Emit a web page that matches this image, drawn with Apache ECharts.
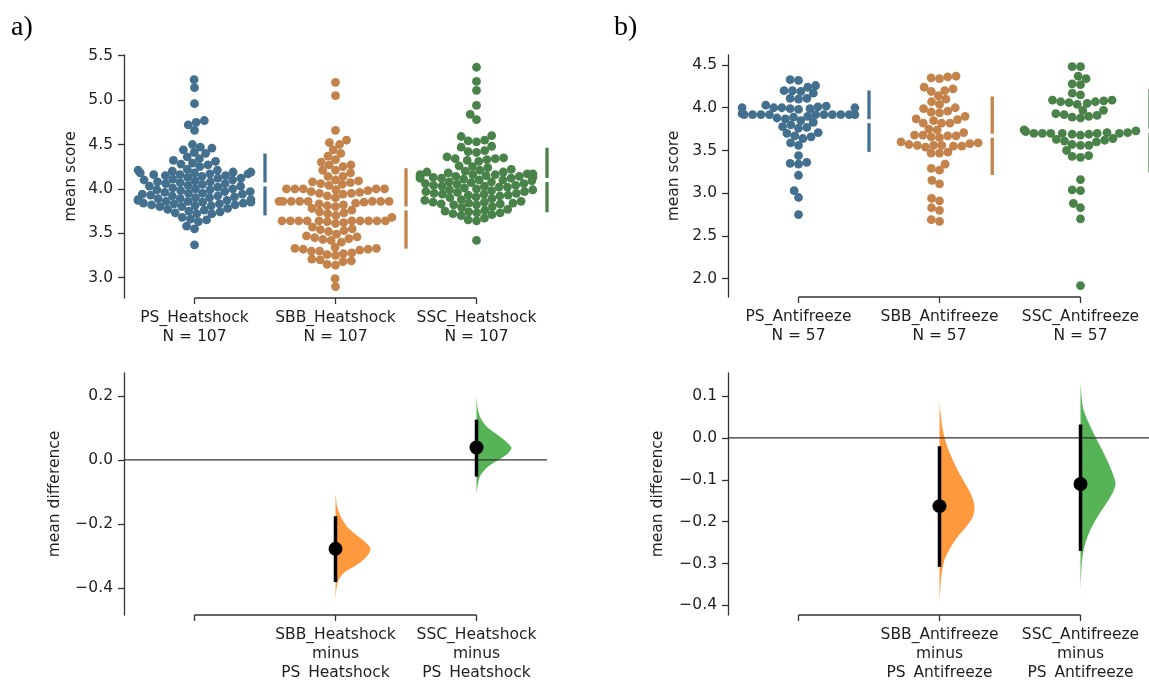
<!DOCTYPE html>
<html><head><meta charset="utf-8">
<script src="https://cdn.jsdelivr.net/npm/echarts@6/dist/echarts.min.js"></script>
<style>html,body{margin:0;padding:0;background:#fff}#c{width:1149px;height:680px}</style>
</head><body><div id="c"></div>
<script>
// ---------------- DATA ----------------
const heatGroups = ['PS_Heatshock', 'SBB_Heatshock', 'SSC_Heatshock'];
const heatN = [107, 107, 107];
const antiGroups = ['PS_Antifreeze', 'SBB_Antifreeze', 'SSC_Antifreeze'];
const antiN = [57, 57, 57];

const psHeat = [5.23, 5.14, 4.96, 4.77, 4.75, 4.72, 4.66, 4.50, 4.47, 4.46, 4.44, 4.41, 4.40, 4.36, 4.34, 4.32, 4.31, 4.29, 4.28, 4.27, 4.25,
  4.22, 4.21, 4.21, 4.20, 4.19, 4.19, 4.18, 4.18, 4.17, 4.17, 4.16, 4.16, 4.15, 4.15,
  4.14, 4.13, 4.12, 4.12, 4.11, 4.10, 4.10, 4.09, 4.08, 4.08, 4.07, 4.06, 4.06, 4.05,
  4.04, 4.03, 4.03, 4.02, 4.01, 4.00, 4.00, 3.99, 3.99, 3.98, 3.97, 3.97, 3.96, 3.95, 3.95,
  3.94, 3.94, 3.93, 3.92, 3.92, 3.91, 3.90, 3.90, 3.89, 3.89, 3.88, 3.88, 3.87, 3.87,
  3.86, 3.86, 3.85, 3.85, 3.84, 3.84, 3.83, 3.83, 3.82, 3.82, 3.81, 3.81, 3.80, 3.80,
  3.78, 3.77, 3.76, 3.75, 3.74, 3.73, 3.72, 3.72,
  3.68, 3.66, 3.65, 3.63, 3.58, 3.55, 3.37];
const sbbHeat = [5.20, 5.05, 4.66, 4.55, 4.52, 4.50, 4.44, 4.40, 4.37, 4.33, 4.30, 4.27, 4.27, 4.25, 4.21, 4.21, 4.18, 4.14, 4.14,
  4.10, 4.09, 4.08, 4.07, 4.06, 4.05, 4.04,
  4.00, 4.00, 4.00, 4.00, 4.00, 3.99, 3.98, 3.97, 3.96, 3.95, 3.95, 3.94, 3.92, 3.90,
  3.86, 3.86, 3.86, 3.86, 3.86, 3.86, 3.86, 3.86, 3.85, 3.84, 3.83, 3.82, 3.81, 3.80,
  3.78, 3.76, 3.74, 3.73, 3.72, 3.70, 3.68,
  3.64, 3.64, 3.64, 3.64, 3.64, 3.64, 3.64, 3.64, 3.64, 3.64, 3.63, 3.62, 3.61,
  3.57, 3.55, 3.54, 3.53, 3.52,
  3.49, 3.47, 3.46, 3.45, 3.44, 3.43, 3.42, 3.40,
  3.34, 3.33, 3.33, 3.32, 3.32, 3.31, 3.30, 3.30,
  3.28, 3.27, 3.26, 3.25,
  3.21, 3.20, 3.19, 3.18, 3.15, 3.14,
  2.99, 2.90];
const sscHeat = [5.37, 5.21, 5.11, 4.94, 4.84, 4.78,
  4.60, 4.59, 4.55, 4.54, 4.53,
  4.48, 4.47, 4.43, 4.42, 4.41,
  4.36, 4.35, 4.34, 4.34, 4.33, 4.32, 4.31,
  4.26, 4.25, 4.24, 4.22, 4.21, 4.20, 4.19, 4.19, 4.18,
  4.17, 4.17, 4.16, 4.16, 4.16, 4.15, 4.15, 4.14, 4.14, 4.14, 4.13, 4.13, 4.12, 4.12, 4.12, 4.11,
  4.10, 4.10, 4.09, 4.08, 4.08, 4.07, 4.06, 4.06, 4.05, 4.04, 4.04, 4.03, 4.03, 4.02, 4.02, 4.01,
  4.00, 3.99, 3.99, 3.98, 3.97, 3.97, 3.96, 3.95, 3.95, 3.94, 3.94, 3.93, 3.93, 3.92, 3.91, 3.90, 3.89,
  3.88, 3.87, 3.86, 3.85, 3.85, 3.84, 3.84, 3.83, 3.83, 3.82, 3.82, 3.80, 3.79,
  3.77, 3.76, 3.75, 3.74, 3.73, 3.73, 3.72, 3.71, 3.70,
  3.67, 3.65, 3.64, 3.42];

const psAnti = [4.33, 4.32, 4.26, 4.24, 4.20, 4.20, 4.19, 4.17, 4.11, 4.11, 4.10,
  4.03, 4.02, 4.01, 4.00, 4.00, 4.00, 4.00, 3.99, 3.99, 3.98,
  3.93, 3.92, 3.92, 3.92, 3.92, 3.92, 3.92, 3.92, 3.92, 3.92, 3.92, 3.90, 3.89, 3.88, 3.87,
  3.85, 3.83, 3.80, 3.78, 3.77, 3.76,
  3.71, 3.70, 3.67, 3.66, 3.64,
  3.59, 3.56, 3.44, 3.36, 3.35, 3.34, 3.21, 3.03, 2.95, 2.75];
const sbbAnti = [4.37, 4.36, 4.35, 4.34,
  4.24, 4.22, 4.20, 4.19, 4.14, 4.10, 4.07,
  4.04, 4.00, 3.99, 3.96, 3.95, 3.94,
  3.90, 3.87, 3.86, 3.85, 3.82, 3.82, 3.82, 3.75, 3.74, 3.71,
  3.68, 3.68, 3.67, 3.67, 3.66, 3.65,
  3.60, 3.59,
  3.58, 3.57, 3.56, 3.56, 3.56, 3.55, 3.55, 3.54,
  3.48, 3.47, 3.47,
  3.34, 3.29, 3.27,
  3.15, 3.11,
  2.94, 2.91, 2.83, 2.80, 2.69, 2.67];
const sscAnti = [4.48, 4.48,
  4.37, 4.34, 4.28, 4.27,
  4.17, 4.15,
  4.09, 4.09, 4.08, 4.07, 4.07, 4.06, 4.05, 4.04,
  3.97, 3.97, 3.93, 3.92, 3.91, 3.90, 3.89, 3.88,
  3.74, 3.73, 3.72, 3.71, 3.71, 3.70, 3.70, 3.70, 3.70, 3.70, 3.70, 3.69, 3.69, 3.68,
  3.64, 3.63, 3.62, 3.61, 3.60,
  3.57, 3.56, 3.56,
  3.50, 3.44, 3.43, 3.42,
  3.16, 3.04, 3.03, 2.88, 2.83, 2.70, 1.92];

// group mean and standard deviation (gapped lines)
const heatMeans = [4.05, 3.78, 4.10];
const heatSDs = [0.33, 0.435, 0.345];
const antiMeans = [3.843, 3.673, 3.731];
const antiSDs = [0.34, 0.44, 0.47];

// mean differences with 95% CI
const heatDiffLabels = ['', 'SBB_Heatshock\nminus\nPS_Heatshock', 'SSC_Heatshock\nminus\nPS_Heatshock'];
const heatDiffMeans = [-0.278, 0.039];
const heatDiffLow = [-0.382, -0.052];
const heatDiffHigh = [-0.176, 0.126];
const antiDiffLabels = ['', 'SBB_Antifreeze\nminus\nPS_Antifreeze', 'SSC_Antifreeze\nminus\nPS_Antifreeze'];
const antiDiffMeans = [-0.163, -0.110];
const antiDiffLow = [-0.308, -0.270];
const antiDiffHigh = [-0.020, 0.032];

// bootstrap distribution outlines (value, relative density)
const heatSbbViolinY = [-0.106, -0.148, -0.179, -0.211, -0.242, -0.263, -0.278, -0.294, -0.315, -0.336, -0.356, -0.377, -0.408, -0.45];
const heatSbbViolinD = [0, 0.05, 0.16, 0.35, 0.68, 0.91, 1.0, 0.95, 0.77, 0.49, 0.21, 0.085, 0.02, 0];
const heatSscViolinY = [0.206, 0.164, 0.133, 0.102, 0.071, 0.05, 0.0375, 0.019, -0.002, -0.023, -0.049, -0.075, -0.106];
const heatSscViolinD = [0, 0.03, 0.11, 0.31, 0.69, 0.92, 1.0, 0.88, 0.59, 0.31, 0.11, 0.04, 0];
const antiSbbViolinY = [0.09, 0.066, 0.026, -0.013, -0.053, -0.093, -0.133, -0.163, -0.189, -0.212, -0.236, -0.26, -0.292, -0.332, -0.395];
const antiSbbViolinD = [0, 0.02, 0.08, 0.19, 0.38, 0.62, 0.89, 1.0, 0.95, 0.76, 0.52, 0.33, 0.14, 0.05, 0];
const antiSscViolinY = [0.134, 0.098, 0.066, 0.026, -0.013, -0.053, -0.085, -0.109, -0.133, -0.165, -0.196, -0.228, -0.268, -0.308, -0.371];
const antiSscViolinD = [0, 0.03, 0.09, 0.29, 0.52, 0.76, 0.92, 1.0, 0.91, 0.67, 0.43, 0.24, 0.09, 0.03, 0];

// tick values
const heatTicks = [3.0, 3.5, 4.0, 4.5, 5.0, 5.5];
const antiTicks = [2.0, 2.5, 3.0, 3.5, 4.0, 4.5];
const heatDiffTicks = [-0.4, -0.2, 0.0, 0.2];
const antiDiffTicks = [-0.4, -0.3, -0.2, -0.1, 0.0, 0.1];

// ---------------- STYLE / LAYOUT ----------------
const FONT = 'DejaVu Sans';
const TXT = '#1f1f1f';
const AX = '#333333';
const FS = 15.5;
const swarmColors = ['#44708F', '#C3834A', '#498349'];
const violinColors = ['rgba(255,127,14,0.8)', 'rgba(44,160,44,0.8)'];
const DOT_R = 4;
const DOT_SIZE = 8.8;
const VIOLIN_W = 35;

function fmt(v) { return (v < 0 ? '\u2212' : '') + Math.abs(v).toFixed(1); }

const grids = [
  { left: 124, top: 55, width: 423, height: 243 },
  { left: 728, top: 55, width: 423, height: 242 },
  { left: 124, top: 373, width: 423, height: 242 },
  { left: 728, top: 373, width: 423, height: 242 }
];
const yDefs = [
  { min: 2.771, max: 5.508, ticks: heatTicks, name: 'mean score', gap: 45 },
  { min: 1.786, max: 4.617, ticks: antiTicks, name: 'mean score', gap: 46 },
  { min: -0.485, max: 0.272, ticks: heatDiffTicks, name: 'mean difference', gap: 61 },
  { min: -0.423, max: 0.155, ticks: antiDiffTicks, name: 'mean difference', gap: 62 }
];
const xLabels = [
  heatGroups.map((g, i) => g + '\nN = ' + heatN[i]),
  antiGroups.map((g, i) => g + '\nN = ' + antiN[i]),
  heatDiffLabels, antiDiffLabels
];

const xAxis = [], yAxis = [];
grids.forEach((g, i) => {
  g.outerBoundsMode = 'none';
  g.containLabel = false;
  xAxis.push({ type: 'value', gridIndex: i, min: -0.5, max: 2.5, show: false });
  xAxis.push({
    type: 'category', gridIndex: i, data: xLabels[i], position: 'bottom', boundaryGap: true,
    axisLine: { show: false, onZero: false },
    axisTick: { show: true, alignWithLabel: true, length: 6, lineStyle: { color: AX, width: 1.3 } },
    axisLabel: { interval: 0, margin: 10, fontSize: FS, fontFamily: FONT, color: TXT, lineHeight: 19 },
    splitLine: { show: false }
  });
  const d = yDefs[i];
  yAxis.push({
    type: 'value', gridIndex: i, min: d.min, max: d.max,
    name: d.name, nameLocation: 'middle', nameGap: d.gap,
    nameTextStyle: { fontSize: FS, fontFamily: FONT, color: TXT },
    axisLine: { show: true, onZero: false, lineStyle: { color: AX, width: 1.3 } },
    axisTick: { show: true, length: 6, customValues: d.ticks, lineStyle: { color: AX, width: 1.3 } },
    axisLabel: { customValues: d.ticks, formatter: fmt, margin: 11, fontSize: FS, fontFamily: FONT, color: TXT },
    splitLine: { show: false }
  });
});

// swarm series (first pass: unspread), one per group
const swarmPanels = [
  { pi: 0, groups: [psHeat, sbbHeat, sscHeat], means: heatMeans, sds: heatSDs },
  { pi: 1, groups: [psAnti, sbbAnti, sscAnti], means: antiMeans, sds: antiSDs }
];
const scatterSeries = [];
swarmPanels.forEach(P => {
  P.groups.forEach((vals, gi) => {
    scatterSeries.push({
      type: 'scatter', xAxisIndex: 2 * P.pi, yAxisIndex: P.pi, symbol: 'circle', symbolSize: DOT_SIZE,
      itemStyle: { color: swarmColors[gi], opacity: 1 }, silent: true, z: 2,
      data: vals.map(v => [gi, v])
    });
  });
});

const chart = echarts.init(document.getElementById('c'), null, { renderer: 'canvas' });
chart.setOption({
  animation: false,
  backgroundColor: '#fff',
  textStyle: { fontFamily: FONT },
  grid: grids, xAxis: xAxis, yAxis: yAxis,
  graphic: [
    { type: 'text', left: 11, top: 14, style: { text: 'a)', font: '28px "Liberation Serif"', fill: '#000' } },
    { type: 'text', left: 614, top: 14, style: { text: 'b)', font: '28px "Liberation Serif"', fill: '#000' } }
  ],
  series: scatterSeries
});

// seaborn-like beeswarm in pixel space
function beeswarm(py, r) {
  const order = py.map((_, i) => i).sort((a, b) => py[b] - py[a]);
  const placed = [];
  const off = new Array(py.length);
  for (const i of order) {
    const y = py[i];
    const nb = [];
    for (let k = placed.length - 1; k >= 0; k--) if (Math.abs(placed[k][1] - y) < 2 * r) nb.push(placed[k]);
    const cand = [0];
    let leftFirst = true;
    for (const p of nb) {
      const dy = y - p[1];
      const dx = Math.sqrt(Math.max(4 * r * r - dy * dy, 0)) * 1.05;
      if (leftFirst) cand.push(p[0] - dx, p[0] + dx); else cand.push(p[0] + dx, p[0] - dx);
      leftFirst = !leftFirst;
    }
    const sorted = cand.map((c, j) => [c, j]).sort((a, b) => (Math.abs(a[0]) - Math.abs(b[0])) || (a[1] - b[1]));
    let x = 0;
    for (const s of sorted) {
      const c = s[0];
      let ok = true;
      for (const p of nb) {
        const dx = c - p[0], dy = y - p[1];
        if (dx * dx + dy * dy < 4 * r * r - 0.01) { ok = false; break; }
      }
      if (ok) { x = c; break; }
    }
    placed.push([x, y]);
    off[i] = x;
  }
  return off;
}

const series = scatterSeries.slice();
const trimAxis = (i) => ({
  type: 'custom', xAxisIndex: 2 * i, yAxisIndex: i, silent: true, clip: false, z: 5,
  data: [[0, yDefs[i].min]],
  renderItem: (params, api) => {
    const a = api.coord([0, yDefs[i].min]), b = api.coord([2, yDefs[i].min]);
    return { type: 'line', shape: { x1: a[0], y1: a[1], x2: b[0], y2: b[1] }, style: { stroke: AX, lineWidth: 1.3 } };
  }
});

// swarm layout + gapped mean±sd lines
let sIdx = 0;
swarmPanels.forEach(P => {
  const pi = P.pi;
  const barData = [];
  P.groups.forEach((vals, gi) => {
    const si = sIdx++;
    const finder = { seriesIndex: si };
    const p0 = chart.convertToPixel(finder, [0, 4]);
    const p1 = chart.convertToPixel(finder, [1, 4]);
    const pxPerUnit = p1[0] - p0[0];
    const py = vals.map(v => chart.convertToPixel(finder, [gi, v])[1]);
    const offPx = beeswarm(py, DOT_R);
    const off = offPx.map(o => Math.max(-0.4, Math.min(0.4, o / pxPerUnit)));
    series[si] = Object.assign({}, scatterSeries[si], { data: vals.map((v, k) => [gi + off[k], v]) });
    const maxOff = Math.max.apply(null, off);
    barData.push([gi + maxOff + 0.1, P.means[gi], P.sds[gi], gi]);
  });
  const span = yDefs[pi].max - yDefs[pi].min;
  series.push({
    type: 'custom', xAxisIndex: 2 * pi, yAxisIndex: pi, silent: true, clip: false, z: 3,
    data: barData,
    renderItem: (params, api) => {
      const x = api.value(0), m = api.value(1), sd = api.value(2), c = swarmColors[api.value(3)];
      const gap = span * 0.015;
      const a = api.coord([x, m + sd]), b = api.coord([x, m + gap]);
      const c1 = api.coord([x, m - gap]), d = api.coord([x, m - sd]);
      const st = { stroke: c, lineWidth: 3.3, lineCap: 'square' };
      return { type: 'group', children: [
        { type: 'line', shape: { x1: a[0], y1: a[1], x2: b[0], y2: b[1] }, style: st },
        { type: 'line', shape: { x1: c1[0], y1: c1[1], x2: d[0], y2: d[1] }, style: st }
      ] };
    }
  });
  series.push(trimAxis(pi));
});

// difference panels
[[2, heatDiffMeans, heatDiffLow, heatDiffHigh, [[heatSbbViolinY, heatSbbViolinD], [heatSscViolinY, heatSscViolinD]]],
 [3, antiDiffMeans, antiDiffLow, antiDiffHigh, [[antiSbbViolinY, antiSbbViolinD], [antiSscViolinY, antiSscViolinD]]]].forEach(([pi, means, lows, highs, profiles]) => {
  series.push({
    type: 'custom', xAxisIndex: 2 * pi, yAxisIndex: pi, silent: true, clip: false, z: 2,
    data: profiles.map((p, k) => [k + 1, k]),
    renderItem: (params, api) => {
      const x0 = api.value(0), k = api.value(1);
      const ys = profiles[k][0], ds = profiles[k][1];
      const pts = ys.map((v, j) => { const p = api.coord([x0, v]); return [p[0] + ds[j] * VIOLIN_W, p[1]]; });
      let minX = Infinity, minY = Infinity, maxX = -Infinity, maxY = -Infinity;
      pts.forEach(p => { minX = Math.min(minX, p[0]); maxX = Math.max(maxX, p[0]); minY = Math.min(minY, p[1]); maxY = Math.max(maxY, p[1]); });
      return { type: 'polygon', shape: { points: pts, smooth: 0.3, smoothConstraint: [[minX, minY], [maxX, maxY]] }, style: { fill: violinColors[k] } };
    }
  });
  series.push({
    type: 'custom', xAxisIndex: 2 * pi, yAxisIndex: pi, silent: true, clip: false, z: 3,
    data: [[0, 0]],
    renderItem: (params, api) => {
      const a = api.coord([-0.5, 0]), b = api.coord([2.5, 0]);
      return { type: 'line', shape: { x1: a[0], y1: a[1], x2: b[0], y2: b[1] }, style: { stroke: '#333', lineWidth: 1.3 } };
    }
  });
  series.push({
    type: 'custom', xAxisIndex: 2 * pi, yAxisIndex: pi, silent: true, clip: false, z: 4,
    data: means.map((m, k) => [k + 1, m, lows[k], highs[k]]),
    renderItem: (params, api) => {
      const x = api.value(0);
      const m = api.coord([x, api.value(1)]), lo = api.coord([x, api.value(2)]), hi = api.coord([x, api.value(3)]);
      return { type: 'group', children: [
        { type: 'line', shape: { x1: lo[0], y1: lo[1], x2: hi[0], y2: hi[1] }, style: { stroke: '#000', lineWidth: 3.5 } },
        { type: 'circle', shape: { cx: m[0], cy: m[1], r: 7 }, style: { fill: '#000' } }
      ] };
    }
  });
  series.push(trimAxis(pi));
});

chart.setOption({ series: series });
</script></body></html>
